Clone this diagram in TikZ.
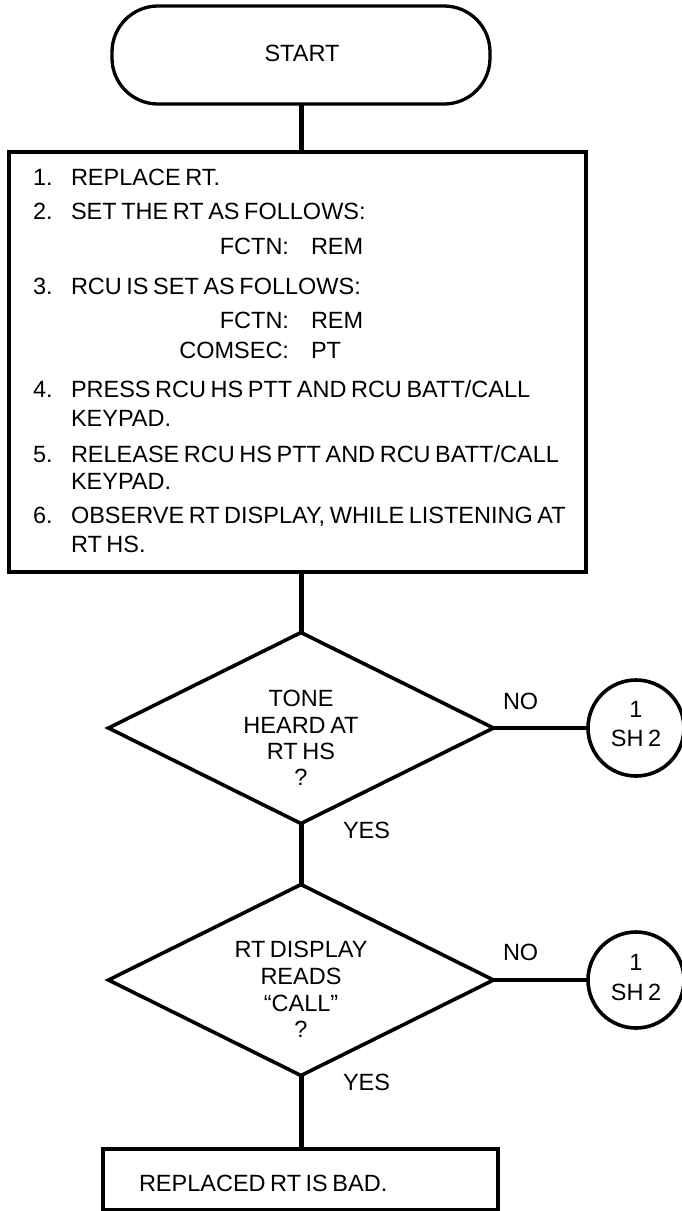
\documentclass[tikz,border=0pt]{standalone}
\usepackage{fontspec}
\setmainfont[WordSpace=0.7]{Liberation Sans}
\usetikzlibrary{shapes.geometric}
\begin{document}
\begin{tikzpicture}[x=1pt,y=-1pt,
  every node/.style={font=\fontsize{23.5}{28}\selectfont, inner sep=0pt, outer sep=0pt},
  term/.style={draw, line width=3.3pt, rounded corners=46pt, minimum width=378pt, minimum height=98pt},
  stepbox/.style={draw, line width=3.3pt, rectangle},
  decide/.style={draw, diamond, line width=3.6pt, minimum width=385pt, minimum height=191pt},
  offpage/.style={draw, circle, line width=3.6pt, minimum size=96pt},
  conn/.style={line width=5pt},
  hconn/.style={line width=3.8pt}]
\useasboundingbox (0,0) rectangle (682,1211);

% start terminal
\node[term] (start) at (301,55) {};
\node[anchor=base] (starttxt) at (302,61) {START};

% main step box
\node[stepbox, minimum width=577pt, minimum height=420pt] (box1) at (297.5,362) {};
\node[anchor=base west] (n1) at (33,185) {1.};
\node[anchor=base west] (t1) at (71,185) {REPLACE RT.};
\node[anchor=base west] (n2) at (33,219) {2.};
\node[anchor=base west] (t2) at (71,219) {SET THE RT AS FOLLOWS:};
\node[anchor=base east] (k2) at (289,254) {FCTN:};
\node[anchor=base west] (v2) at (311,254) {REM};
\node[anchor=base west] (n3) at (33,294) {3.};
\node[anchor=base west] (t3) at (71,294) {RCU IS SET AS FOLLOWS:};
\node[anchor=base east] (k3a) at (289,328) {FCTN:};
\node[anchor=base west] (v3a) at (311,328) {REM};
\node[anchor=base east] (k3b) at (289,358) {COMSEC:};
\node[anchor=base west] (v3b) at (311,358) {PT};
\node[anchor=base west] (n4) at (33,397) {4.};
\node[anchor=base west] (t4a) at (71,397) {PRESS RCU HS PTT AND RCU BATT/CALL};
\node[anchor=base west] (t4b) at (71,426) {KEYPAD.};
\node[anchor=base west] (n5) at (33,462) {5.};
\node[anchor=base west] (t5a) at (71,462) {RELEASE RCU HS PTT AND RCU BATT/CALL};
\node[anchor=base west] (t5b) at (71,489) {KEYPAD.};
\node[anchor=base west] (n6) at (33,523) {6.};
\node[anchor=base west] (t6a) at (71,523) {OBSERVE RT DISPLAY, WHILE LISTENING AT};
\node[anchor=base west] (t6b) at (71,552) {RT HS.};

% decision 1
\node[decide] (d1) at (301,728) {};
\node[anchor=base] (d1a) at (301,706) {TONE};
\node[anchor=base] (d1b) at (301,733) {HEARD AT};
\node[anchor=base] (d1c) at (301,759) {RT HS};
\node[anchor=base] (d1d) at (301,785) {?};
\node[offpage] (c1) at (636,728) {};
\node[anchor=base] (c1a) at (636,717) {1};
\node[anchor=base] (c1b) at (636,746) {SH 2};
\node[anchor=base west] (no1) at (503,709) {NO};
\node[anchor=base west] (yes1) at (343,838) {YES};

% decision 2
\node[decide] (d2) at (301,980) {};
\node[anchor=base] (d2a) at (301,957) {RT DISPLAY};
\node[anchor=base] (d2b) at (301,984) {READS};
\node[anchor=base] (d2c) at (301,1011) {“CALL”};
\node[anchor=base] (d2d) at (301,1037) {?};
\node[offpage] (c2) at (636,980) {};
\node[anchor=base] (c2a) at (636,970) {1};
\node[anchor=base] (c2b) at (636,1000) {SH 2};
\node[anchor=base west] (no2) at (503,960) {NO};
\node[anchor=base west] (yes2) at (343,1090) {YES};

% final box
\node[stepbox, minimum width=395pt, minimum height=61pt] (box2) at (300.5,1179.5) {};
\node[anchor=base west] (t7) at (139,1191) {REPLACED RT IS BAD.};

% connectors
\draw[conn] (start.south) -- (start.south |- box1.north);
\draw[conn] (d1.north |- box1.south) -- (d1.north);
\draw[conn] (d1.south) -- (d2.north);
\draw[conn] (d2.south) -- (d2.south |- box2.north);
\draw[hconn] (d1.east) -- (c1.west);
\draw[hconn] (d2.east) -- (c2.west);
\end{tikzpicture}
\end{document}
